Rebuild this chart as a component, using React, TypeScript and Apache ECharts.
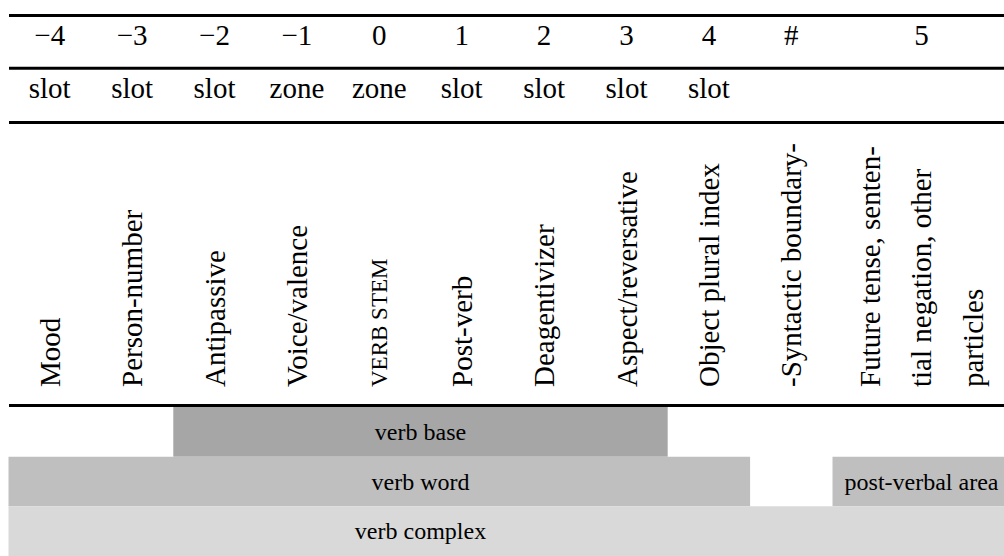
import React, { useEffect, useRef } from 'react';
import * as echarts from 'echarts';

// ---- Data ----
const positions = ['−4', '−3', '−2', '−1', '0', '1', '2', '3', '4', '#', '5'];
const unitTypes = ['slot', 'slot', 'slot', 'zone', 'zone', 'slot', 'slot', 'slot', 'slot', '', ''];
const categoryLabels = [
  'Mood',
  'Person-number',
  'Antipassive',
  'Voice/valence',
  'VERB STEM',
  'Post-verb',
  'Deagentivizer',
  'Aspect/reversative',
  'Object plural index',
  '-Syntactic boundary-',
  'Future tense, senten-\ntial negation, other\nparticles',
];
const columnSpans = [1, 1, 1, 1, 1, 1, 1, 1, 1, 1, 2.16];

const bandNames = ['verb base', 'verb word', 'post-verbal area', 'verb complex'];
const bandStarts = [2, 0, 10, 0];
const bandEnds = [8, 9, 12.16, 12.16];
const bandLevels = [0, 1, 1, 2];
const bandLabelCenters = [5, 5, 11.08, 5];

// ---- Layout / style ----
const FONT = "'Liberation Serif', 'Times New Roman', serif";
const W = 1004;
const H = 556;
const LEFT = 8.5;
const UNIT_PX = 82.4;
const XMAX = (W - LEFT) / UNIT_PX;
const NUM_Y = 35;
const TYPE_Y = 88;
const LABEL_BOTTOM_Y = 387;
const RULES_Y = [15.5, 68.3, 122.5, 405.5];
const BAND_TOP = 407;
const BAND_ROW_H = 52;
const BAND_COLORS = ['#a6a6a6', '#bfbfbf', '#d9d9d9'];

const headerData = (() => {
  let acc = 0;
  return columnSpans.map((w, i) => {
    const item = [acc, acc + w, i];
    acc += w;
    return item;
  });
})();

const bandData = bandNames.map((_, i) => [
  bandStarts[i],
  bandEnds[i],
  bandLevels[i],
  bandLabelCenters[i],
  i,
]);

export default function App() {
  const ref = useRef<HTMLDivElement>(null);

  useEffect(() => {
    if (!ref.current) return;
    const chart = echarts.init(ref.current, undefined, { renderer: 'svg' });

    const option: any = {
      animation: false,
      backgroundColor: '#ffffff',
      grid: [
        { left: LEFT, right: 0, top: 0, bottom: 0 },
        { left: LEFT, right: 0, top: BAND_TOP, height: BAND_ROW_H * 3 },
      ],
      xAxis: [
        { type: 'value', gridIndex: 0, min: 0, max: XMAX, show: false },
        { type: 'value', gridIndex: 1, min: 0, max: XMAX, show: false },
      ],
      yAxis: [
        { type: 'value', gridIndex: 0, min: 0, max: 1, show: false },
        { type: 'value', gridIndex: 1, min: 0, max: 3, inverse: true, show: false },
      ],
      graphic: RULES_Y.map((y) => ({
        type: 'line',
        shape: { x1: 9, y1: y, x2: W, y2: y },
        style: { stroke: '#000', lineWidth: 3 },
        z: 10,
      })),
      series: [
        {
          type: 'custom',
          xAxisIndex: 0,
          yAxisIndex: 0,
          data: headerData,
          clip: false,
          renderItem: (_params: any, api: any) => {
            const i = api.value(2);
            const cx = api.coord([(api.value(0) + api.value(1)) / 2, 0])[0];
            const label = categoryLabels[i];
            const isCaps = label === label.toUpperCase();
            return {
              type: 'group',
              children: [
                {
                  type: 'text',
                  x: cx,
                  y: NUM_Y,
                  style: {
                    text: positions[i],
                    x: 0,
                    y: 0,
                    align: 'center',
                    verticalAlign: 'middle',
                    fontSize: 29,
                    fontFamily: FONT,
                    fill: '#000',
                  },
                },
                {
                  type: 'text',
                  x: cx,
                  y: TYPE_Y,
                  style: {
                    text: unitTypes[i],
                    x: 0,
                    y: 0,
                    align: 'center',
                    verticalAlign: 'middle',
                    fontSize: 29,
                    fontFamily: FONT,
                    fill: '#000',
                  },
                },
                {
                  type: 'text',
                  x: cx,
                  y: LABEL_BOTTOM_Y,
                  rotation: Math.PI / 2,
                  style: {
                    text: label,
                    x: 0,
                    y: 0,
                    align: 'left',
                    verticalAlign: 'middle',
                    fontSize: isCaps ? 23 : 29,
                    fontFamily: FONT,
                    lineHeight: 51.5,
                    fill: '#000',
                  },
                },
              ],
            };
          },
        },
        {
          type: 'custom',
          xAxisIndex: 1,
          yAxisIndex: 1,
          data: bandData,
          clip: false,
          renderItem: (_params: any, api: any) => {
            const s = api.value(0);
            const e = api.value(1);
            const lv = api.value(2);
            const lc = api.value(3);
            const idx = api.value(4);
            const p0 = api.coord([s, lv]);
            const p1 = api.coord([e, lv + 1]);
            const pc = api.coord([lc, lv + 0.5]);
            return {
              type: 'group',
              children: [
                {
                  type: 'rect',
                  shape: {
                    x: p0[0],
                    y: Math.min(p0[1], p1[1]),
                    width: p1[0] - p0[0],
                    height: Math.abs(p1[1] - p0[1]),
                  },
                  style: { fill: BAND_COLORS[lv] },
                },
                {
                  type: 'text',
                  x: pc[0],
                  y: pc[1],
                  style: {
                    text: bandNames[idx],
                    x: 0,
                    y: 0,
                    align: 'center',
                    verticalAlign: 'middle',
                    fontSize: 24,
                    fontFamily: FONT,
                    fill: '#000',
                  },
                },
              ],
            };
          },
        },
      ],
    };

    chart.setOption(option);
    return () => chart.dispose();
  }, []);

  return (
    <div
      ref={ref}
      style={{ position: 'absolute', left: 0, top: 0, width: W, height: H, background: '#fff' }}
    />
  );
}
